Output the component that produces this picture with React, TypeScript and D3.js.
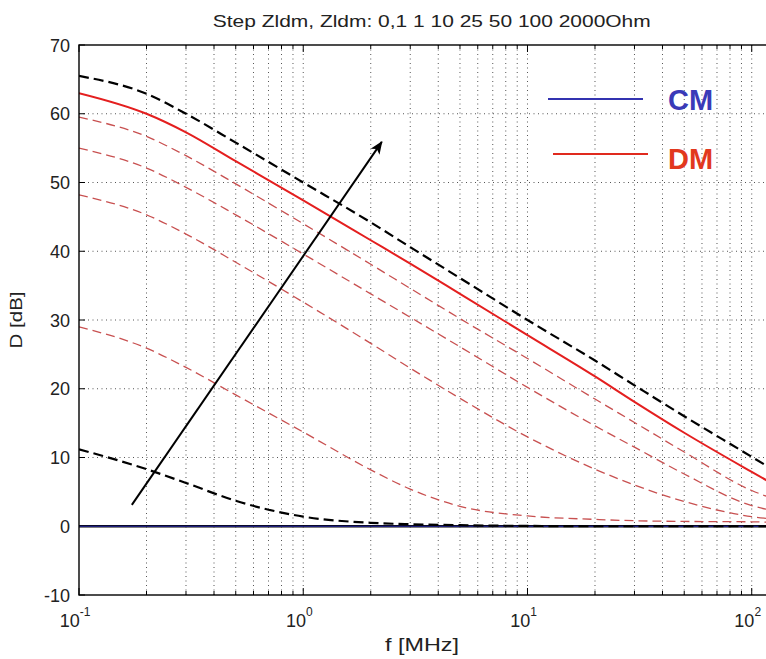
import React from "react";
import * as d3 from "d3";

const freqs = [0.1, 0.2, 0.3, 0.5, 1, 2, 3, 5, 10, 20, 30, 50, 100, 140];
const dmZ2000 = [65.5, 62.9, 60.0, 55.8, 50, 44.2, 40.6, 36.1, 30, 24.1, 20.5, 16, 10.1, 7.2];
const dmZ100 = [63, 60, 57.3, 53.1, 47.4, 41.6, 38.2, 33.8, 27.8, 21.8, 18.1, 13.6, 7.9, 5.2];
const dmZ50 = [59.5, 56.7, 53.9, 49.8, 44, 38.1, 34.6, 30.2, 24.4, 18.5, 15.1, 10.8, 5.2, 3.5];
const dmZ25 = [55, 52.1, 49.3, 45.3, 39.6, 33.8, 30.4, 26.1, 20.2, 14.6, 11.5, 7.6, 3.0, 2.0];
const dmZ10 = [48.2, 45.3, 42.5, 38.4, 32.6, 26.6, 23, 18.6, 13, 8.3, 6, 3.6, 1.4, 0.9];
const dmZ1 = [29, 25.9, 23.1, 19.1, 13.7, 8.2, 5.4, 2.9, 1.5, 1.0, 0.8, 0.7, 0.65, 0.5];
const dmZ01 = [11.2, 8.3, 6.3, 3.7, 1.4, 0.5, 0.3, 0.15, 0.05, 0, 0, 0, 0, 0];
const cmAll = [0, 0, 0, 0, 0, 0, 0, 0, 0, 0, 0, 0, 0, 0];

const yTicks = [-10, 0, 10, 20, 30, 40, 50, 60, 70];
const xDecades = [0.1, 1, 10, 100];
const xDecadeExp = ["-1", "0", "1", "2"];
const arrowF = [0.172, 2.24];
const arrowD = [3.1, 55.9];

const title = "Step Zldm, Zldm: 0,1 1 10 25 50 100 2000Ohm";

export default function App() {
  const W = 766, H = 659;
  const x = d3.scaleLog().domain([0.1, 140]).range([79, 784.5]);
  const y = d3.scaleLinear().domain([-10, 70]).range([595, 45]);
  const line = (vals: number[]) =>
    d3.line<number>()
      .x((_, i) => x(freqs[i]))
      .y((v) => y(v))
      .curve(d3.curveMonotoneX)(vals) as string;

  const minor: number[] = [];
  for (const dec of [0.1, 1, 10, 100]) {
    for (let k = 1; k <= 9; k++) {
      const v = dec * k;
      if (v <= 140) minor.push(v);
    }
  }
  const font = "'Liberation Sans', Arial, Helvetica, sans-serif";
  const [x0, x1] = x.range();
  const [yb, yt] = y.range();
  const cx = (x0 + x1) / 2;

  return (
    <svg width={W} height={H} style={{ position: "absolute", left: 0, top: 0, background: "#fff" }} fontFamily={font}>
      <defs>
        <marker id="ah" viewBox="0 0 12 10" refX="11" refY="5" markerWidth="13" markerHeight="11" markerUnits="userSpaceOnUse" orient="auto">
          <path d="M0,0 L12,5 L0,10 L3,5 Z" fill="#000" />
        </marker>
        <clipPath id="plot"><rect x={x0} y={yt} width={x1 - x0} height={yb - yt} /></clipPath>
      </defs>
      <rect x={0} y={0} width={W} height={H} fill="#fff" />
      {/* grid */}
      {minor.filter((v) => v > 0.1).map((v, i) => (
        <line key={"gx" + i} x1={x(v)} x2={x(v)} y1={yt} y2={yb} stroke="#555" strokeWidth={1} strokeDasharray="1,3.5" />
      ))}
      {yTicks.slice(1, -1).map((v, i) => (
        <line key={"gy" + i} x1={x0} x2={x1} y1={y(v)} y2={y(v)} stroke="#555" strokeWidth={1} strokeDasharray="1,3.5" />
      ))}
      {/* ticks */}
      {minor.map((v, i) => {
        const major = xDecades.includes(v);
        const l = major ? 7 : 4;
        return (
          <g key={"tx" + i}>
            <line x1={x(v)} x2={x(v)} y1={yb} y2={yb - l} stroke="#000" strokeWidth={1} />
            <line x1={x(v)} x2={x(v)} y1={yt} y2={yt + l} stroke="#000" strokeWidth={1} />
          </g>
        );
      })}
      {yTicks.map((v, i) => (
        <g key={"ty" + i}>
          <line x1={x0} x2={x0 + 6} y1={y(v)} y2={y(v)} stroke="#000" strokeWidth={1} />
          <line x1={x1} x2={x1 - 6} y1={y(v)} y2={y(v)} stroke="#000" strokeWidth={1} />
        </g>
      ))}
      {/* curves */}
      <g clipPath="url(#plot)" fill="none">
        <path d={line(dmZ1)} stroke="#c85050" strokeWidth={1.3} strokeDasharray="9,5" />
        <path d={line(dmZ10)} stroke="#c85050" strokeWidth={1.3} strokeDasharray="9,5" />
        <path d={line(dmZ25)} stroke="#c85050" strokeWidth={1.3} strokeDasharray="9,5" />
        <path d={line(dmZ50)} stroke="#c85050" strokeWidth={1.3} strokeDasharray="9,5" />
        <path d={line(dmZ100)} stroke="#e41f1f" strokeWidth={2} />
        <path d={line(dmZ2000)} stroke="#000" strokeWidth={2.2} strokeDasharray="10,5" />
        <path d={line(cmAll)} stroke="#000" strokeWidth={2.6} />
        <path d={line(cmAll)} stroke="#2a2aa8" strokeWidth={1} />
        <path d={line(dmZ01)} stroke="#000" strokeWidth={2.2} strokeDasharray="10,5" />
      </g>
      {/* arrow */}
      <line x1={x(arrowF[0])} y1={y(arrowD[0])} x2={x(arrowF[1])} y2={y(arrowD[1])} stroke="#000" strokeWidth={2} markerEnd="url(#ah)" />
      {/* box */}
      <rect x={x0} y={yt} width={x1 - x0} height={yb - yt} fill="none" stroke="#000" strokeWidth={1.4} />
      {/* legend */}
      <line x1={548} x2={643} y1={99} y2={99} stroke="#3333b0" strokeWidth={2} />
      <text x={668} y={110} fontSize={29} fontWeight="bold" fill="#3a3ab8">CM</text>
      <line x1={553} x2={648} y1={154} y2={154} stroke="#e02a1e" strokeWidth={2} />
      <text x={668} y={169} fontSize={29} fontWeight="bold" fill="#e2381e">DM</text>
      {/* y tick labels */}
      {yTicks.map((v, i) => (
        <text key={"yl" + i} x={70} y={y(v) + 6.5} fontSize={18} textAnchor="end" fill="#222">{v}</text>
      ))}
      {/* x tick labels */}
      {xDecades.map((v, i) => (
        <text key={"xl" + i} x={x(v) - 4} y={627} fontSize={18} textAnchor="middle" fill="#222">
          10<tspan dy={-11} fontSize={12}>{xDecadeExp[i]}</tspan>
        </text>
      ))}
      <text x={422} y={651} fontSize={18} textAnchor="middle" fill="#222" textLength={74} lengthAdjust="spacingAndGlyphs">f [MHz]</text>
      <text transform={`translate(22,${(yt + yb) / 2}) rotate(-90)`} fontSize={16} textAnchor="middle" fill="#222" textLength={57} lengthAdjust="spacingAndGlyphs">D [dB]</text>
      <text x={cx} y={27} fontSize={17} textAnchor="middle" fill="#222" textLength={438} lengthAdjust="spacingAndGlyphs">{title}</text>
    </svg>
  );
}
